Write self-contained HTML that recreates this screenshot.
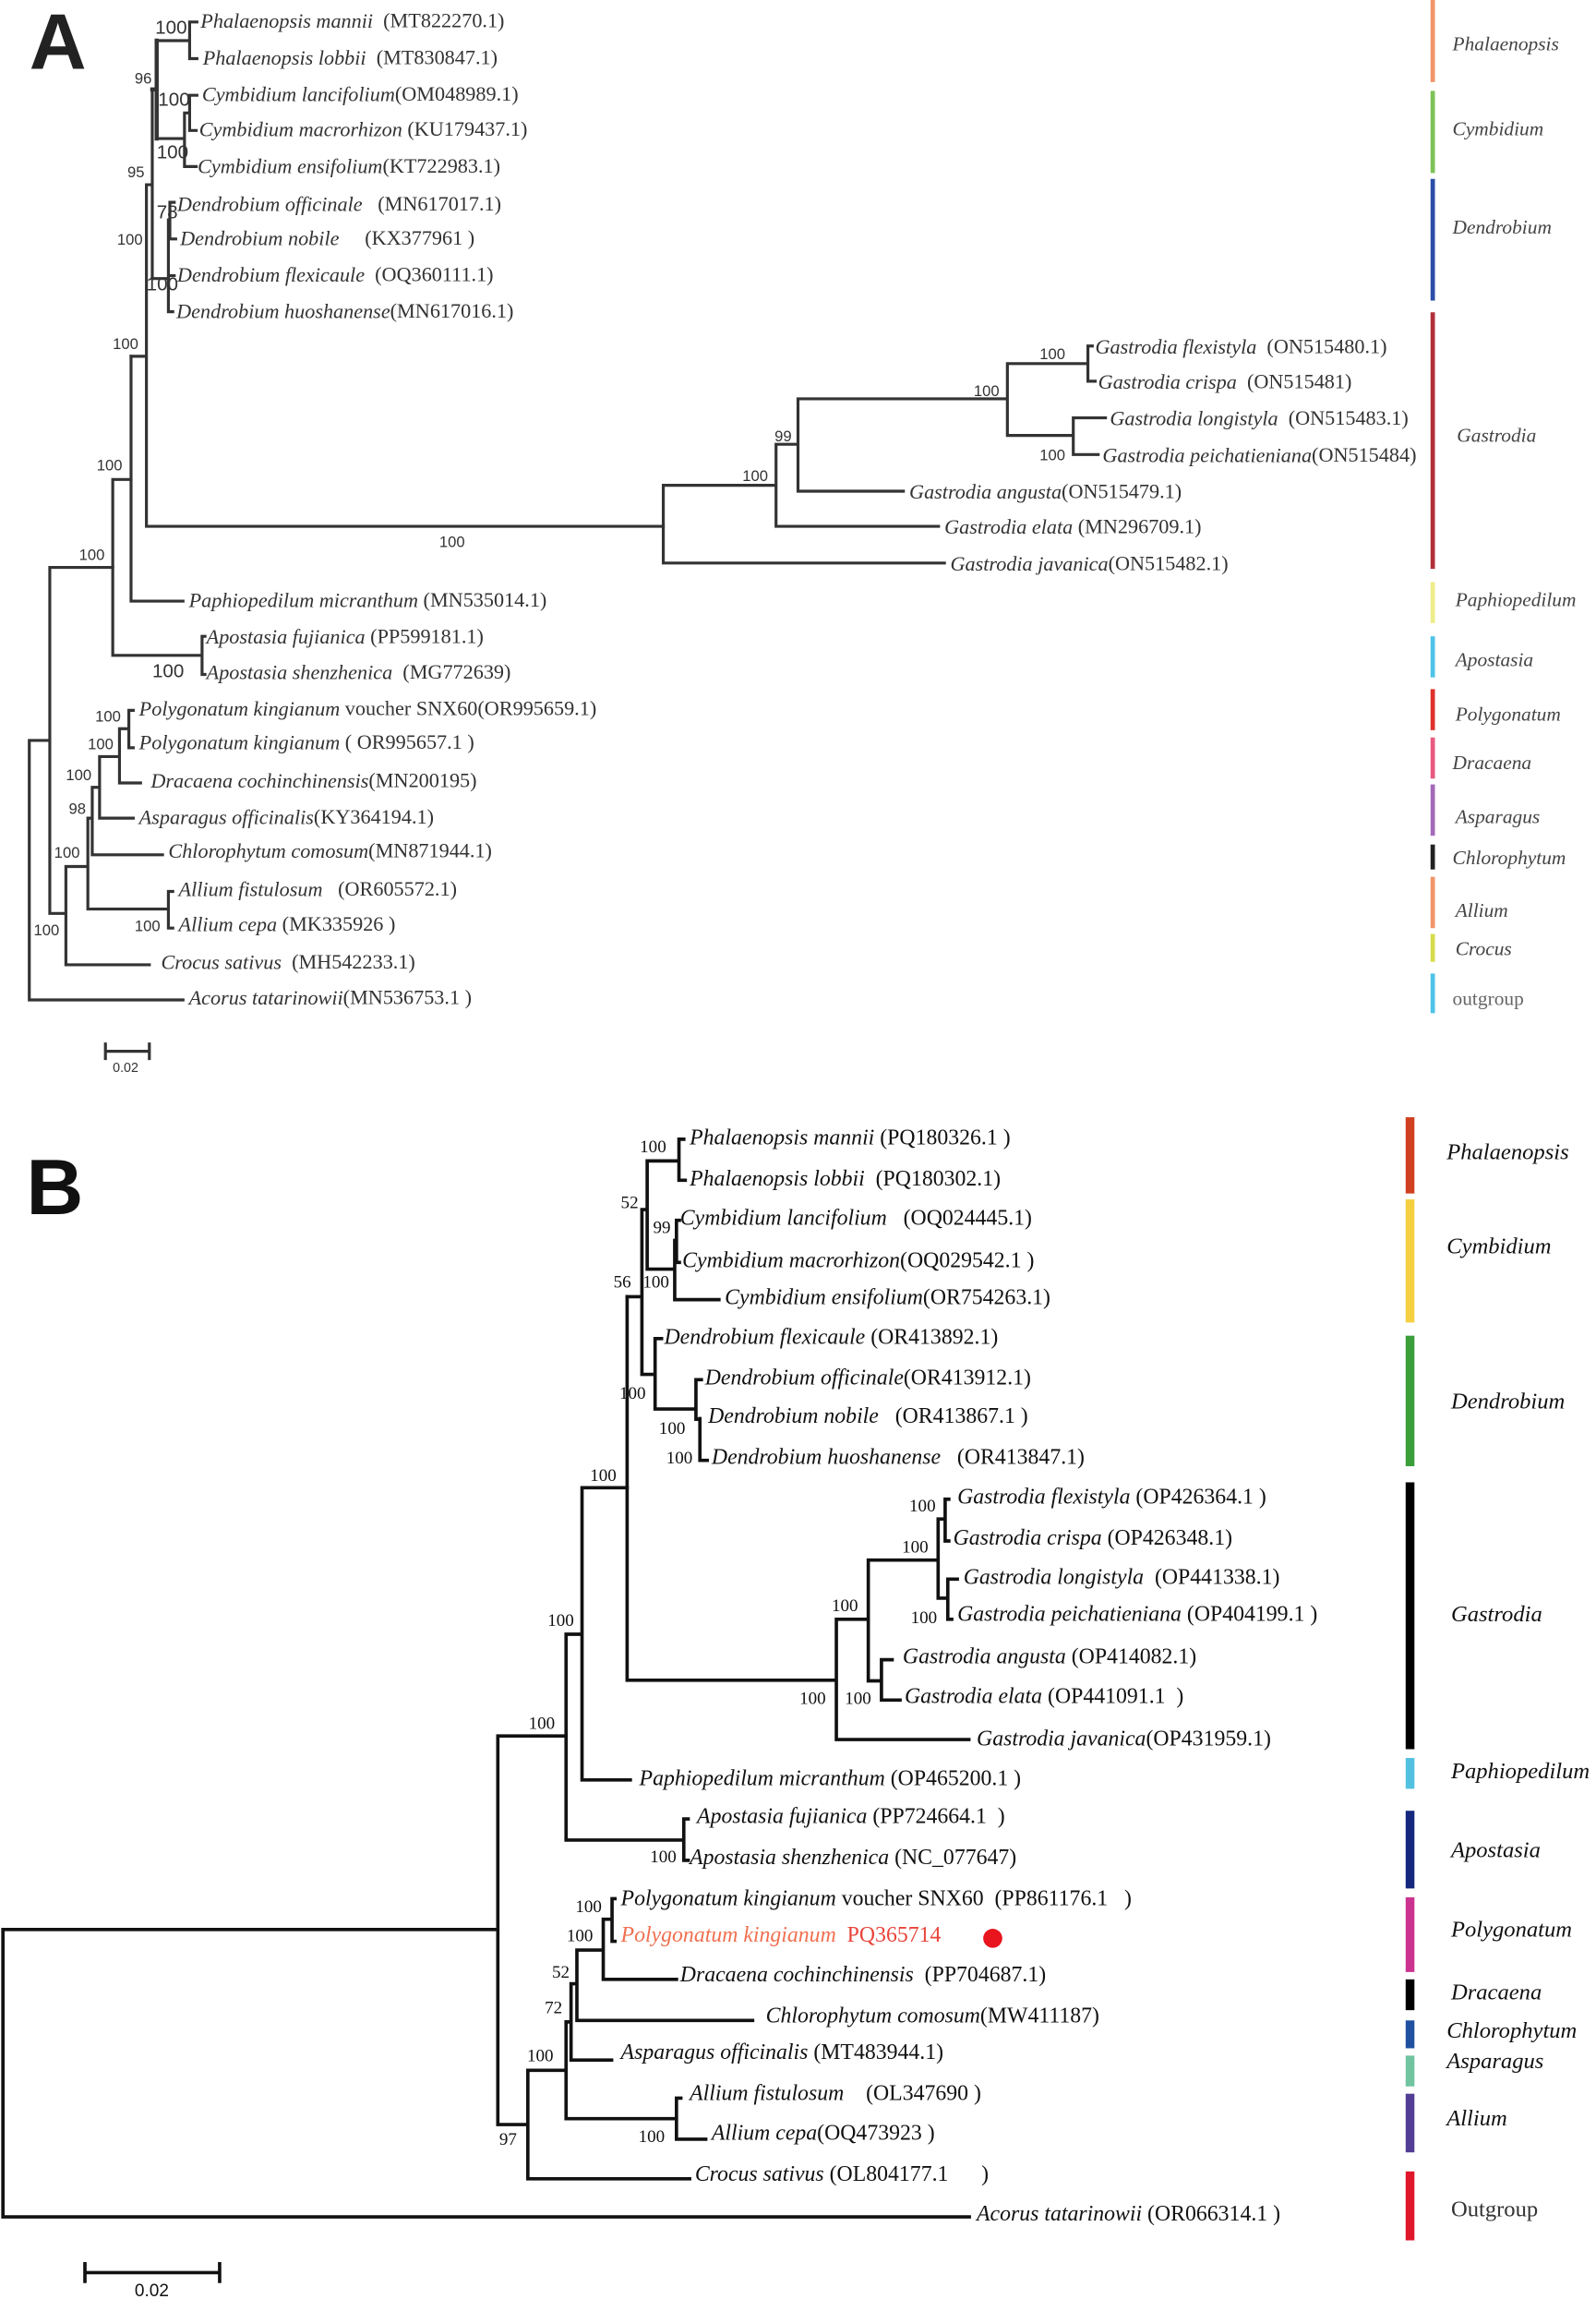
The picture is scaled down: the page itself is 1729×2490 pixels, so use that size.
<!DOCTYPE html>
<html><head><meta charset="utf-8"><style>html,body{margin:0;padding:0;background:#fff}svg{display:block}.pre text{white-space:pre}</style></head>
<body>
<svg xmlns="http://www.w3.org/2000/svg" width="1729" height="2490" viewBox="0 0 1090 1568" preserveAspectRatio="none">
<rect width="1090" height="1568" fill="#fff"/>
<!-- Panel A -->
<text x="20" y="47" font-family="Liberation Sans, sans-serif" font-weight="bold" font-size="54" fill="#222">A</text>
<g fill="none" stroke="#333" stroke-width="2" stroke-linecap="square">
<path d="M129.5 15V40M129.5 15H134.5M129.5 40H134.5M107 27.7H129.5"/>
<path d="M107 27.7V94.5M104 61H107" stroke-width="2.8"/>
<path d="M129.5 65V89M129.5 65H134.5M129.5 89H134M126 77H129.5M126 77V113.6M126 113.6H134M107 94.5H126"/>
<path d="M104 61V190M101 126H104"/>
<path d="M116 138V163M116 138H119M116 163H120M115 150V212.6M115 188H119M115 212.6H118M104 190H115"/>
<path d="M100 126V359M100 359H453M89.5 243H100"/>
<path d="M89.5 243V410M89.5 410H125"/>
<path d="M77 327V447M77 327H89.5M77 447H138M138 434V460M138 434H140M138 460H140"/>
<path d="M20 505V682M20 682H125M20 505H34M34 387V623M34 387H77M34 623H45M45 591V658M45 658H102M45 591H60M60 558V620M60 620H115M115 608V633M115 608H118M115 633H118M60 558H63M63 537V583M63 583H111M63 537H68M68 516V558M68 558H91M68 516H81.6M81.6 497V534M81.6 534H96M81.6 497H88M88 484.5V510M88 484.5H91M88 510H91"/>
<path d="M453 331V384M453 384H645M453 331H530M530 303V359M530 359H641M530 303H545M545 272V335M545 335H617M545 272H688M688 248V297M688 248H743M743 236V260M743 236H746M743 260H748M688 297H733M733 285V310M733 285H755M733 310H750"/>
<path d="M72 717H102M72 712V722M102 712V722"/>
</g>
<g font-family="Liberation Sans, sans-serif" font-size="10.5" fill="#333">
<text x="92" y="57">96</text><text x="87" y="121">95</text><text x="80" y="167">100</text>
<text x="77" y="238">100</text><text x="66" y="321">100</text><text x="54" y="382">100</text>
<text x="300" y="373">100</text><text x="65" y="492">100</text><text x="60" y="511">100</text>
<text x="45" y="532">100</text><text x="47" y="555">98</text><text x="37" y="585">100</text>
<text x="92" y="635">100</text><text x="23" y="638">100</text><text x="710" y="245">100</text>
<text x="665" y="270">100</text><text x="529" y="301">99</text><text x="507" y="328">100</text>
<text x="710" y="314">100</text><text x="77" y="731" font-size="9">0.02</text>
</g>
<g font-family="Liberation Sans, sans-serif" font-size="13" fill="#333">
<text x="106" y="23">100</text><text x="108" y="72">100</text><text x="107" y="108">100</text>
<text x="107" y="149">78</text><text x="100" y="198">100</text><text x="104" y="462">100</text>
</g>
<g class="pre" font-family="Liberation Serif, serif" font-size="14" fill="#333" dominant-baseline="central">
<text x="137" y="14"><tspan font-style="italic">Phalaenopsis mannii</tspan>  (MT822270.1)</text>
<text x="138.5" y="39"><tspan font-style="italic">Phalaenopsis lobbii</tspan>  (MT830847.1)</text>
<text x="138" y="64"><tspan font-style="italic">Cymbidium lancifolium</tspan>(OM048989.1)</text>
<text x="136" y="88"><tspan font-style="italic">Cymbidium macrorhizon</tspan> (KU179437.1)</text>
<text x="135" y="113"><tspan font-style="italic">Cymbidium ensifolium</tspan>(KT722983.1)</text>
<text x="121" y="139"><tspan font-style="italic">Dendrobium officinale</tspan>   (MN617017.1)</text>
<text x="123" y="162"><tspan font-style="italic">Dendrobium nobile</tspan>     (KX377961 )</text>
<text x="121" y="187"><tspan font-style="italic">Dendrobium flexicaule</tspan>  (OQ360111.1)</text>
<text x="120.5" y="212"><tspan font-style="italic">Dendrobium huoshanense</tspan>(MN617016.1)</text>
<text x="748" y="236"><tspan font-style="italic">Gastrodia flexistyla</tspan>  (ON515480.1)</text>
<text x="750" y="260"><tspan font-style="italic">Gastrodia crispa</tspan>  (ON515481)</text>
<text x="758" y="285"><tspan font-style="italic">Gastrodia longistyla</tspan>  (ON515483.1)</text>
<text x="753" y="310"><tspan font-style="italic">Gastrodia peichatieniana</tspan>(ON515484)</text>
<text x="621" y="335"><tspan font-style="italic">Gastrodia angusta</tspan>(ON515479.1)</text>
<text x="645" y="359"><tspan font-style="italic">Gastrodia elata</tspan> (MN296709.1)</text>
<text x="649" y="384"><tspan font-style="italic">Gastrodia javanica</tspan>(ON515482.1)</text>
<text x="129" y="409"><tspan font-style="italic">Paphiopedilum micranthum</tspan> (MN535014.1)</text>
<text x="141" y="434"><tspan font-style="italic">Apostasia fujianica</tspan> (PP599181.1)</text>
<text x="141" y="458"><tspan font-style="italic">Apostasia shenzhenica</tspan>  (MG772639)</text>
<text x="95" y="483"><tspan font-style="italic">Polygonatum kingianum</tspan> voucher SNX60(OR995659.1)</text>
<text x="95" y="506"><tspan font-style="italic">Polygonatum kingianum</tspan> ( OR995657.1 )</text>
<text x="103" y="532"><tspan font-style="italic">Dracaena cochinchinensis</tspan>(MN200195)</text>
<text x="95" y="557"><tspan font-style="italic">Asparagus officinalis</tspan>(KY364194.1)</text>
<text x="115" y="580"><tspan font-style="italic">Chlorophytum comosum</tspan>(MN871944.1)</text>
<text x="122" y="606"><tspan font-style="italic">Allium fistulosum</tspan>   (OR605572.1)</text>
<text x="122" y="630"><tspan font-style="italic">Allium cepa</tspan> (MK335926 )</text>
<text x="110" y="656"><tspan font-style="italic">Crocus sativus</tspan>  (MH542233.1)</text>
<text x="129" y="680"><tspan font-style="italic">Acorus tatarinowii</tspan>(MN536753.1 )</text>
</g>
<g>
<rect x="977" y="0" width="3" height="56" fill="#f0956a"/>
<rect x="977" y="62" width="3" height="56" fill="#7cc254"/>
<rect x="977" y="122" width="3" height="83" fill="#2b4fa8"/>
<rect x="977" y="213" width="3" height="175" fill="#b0303a"/>
<rect x="977" y="397" width="3" height="28" fill="#eeec8a"/>
<rect x="977" y="434" width="3" height="28" fill="#4ec3e8"/>
<rect x="977" y="470" width="3" height="28" fill="#e0302a"/>
<rect x="977" y="503" width="3" height="28" fill="#e85a80"/>
<rect x="977" y="535" width="3" height="35" fill="#a46ab8"/>
<rect x="977" y="576" width="3" height="17" fill="#222"/>
<rect x="977" y="598" width="3" height="35" fill="#f0956a"/>
<rect x="977" y="637" width="3" height="19" fill="#d6dc4a"/>
<rect x="977" y="664" width="3" height="27" fill="#4ec3e8"/>
</g>
<g font-family="Liberation Serif, serif" font-size="13.5" font-style="italic" fill="#444" dominant-baseline="central">
<text x="992" y="30">Phalaenopsis</text><text x="992" y="88">Cymbidium</text><text x="992" y="155">Dendrobium</text>
<text x="995" y="297">Gastrodia</text><text x="994" y="409">Paphiopedilum</text><text x="994" y="450">Apostasia</text>
<text x="994" y="487">Polygonatum</text><text x="992" y="520">Dracaena</text><text x="994" y="557">Asparagus</text>
<text x="992" y="585">Chlorophytum</text><text x="994" y="621">Allium</text><text x="994" y="647">Crocus</text>
<text x="992" y="681" font-style="normal" fill="#666">outgroup</text>
</g>

<!-- Panel B -->
<text x="18" y="828" font-family="Liberation Sans, sans-serif" font-weight="bold" font-size="54" fill="#111">B</text>
<g fill="none" stroke="#111" stroke-width="2.3" stroke-linecap="square">
<path d="M2 1316V1512M2 1512H662M2 1316H340M340 1184V1449M340 1184H386.6M340 1449H360.5M360.5 1412V1486M360.5 1486H471M360.5 1412H386.6M386.6 1379V1445M386.6 1445H462M462 1431V1459M462 1431H465M462 1459H482M386.6 1379H390M390 1353V1405M390 1405H417.7M390 1353H394M394 1330V1378M394 1378H514M394 1330H412M412 1309V1350M412 1350H462M412 1309H418M418 1295V1324M418 1295H420M418 1324H420"/>
<path d="M386.6 1114.6V1255M386.6 1255H467M467 1240.6V1268.8M467 1240.6H470M467 1268.8H470M386.6 1114.6H397.5M397.5 1014.7V1214M397.5 1214H430.5M397.5 1014.7H428.3"/>
<path d="M428.3 884.4V1146M428.3 1146H571.2M571.2 1104.4V1186.4M571.2 1186.4H661.7M571.2 1104.4H593M593 1064V1146.4M593 1146.4H602M602 1132V1159.5M602 1132H609.3M602 1159.5H614.7M593 1064H640.7M640.7 1036V1090M640.7 1036H645.5M645.5 1022.5V1051M645.5 1022.5H648M645.5 1051H648M640.7 1090H647.3M647.3 1077V1104.4M647.3 1077H653.8M647.3 1104.4H650"/>
<path d="M428.3 884.4H438.4M438.4 825V937.4M438.4 825H442M442 791.8V865.6M442 791.8H463.7M463.7 777V805M463.7 777H467M463.7 805H468M442 865.6H460.8M460.8 846V886.4M460.8 886.4H491M460.8 846H462M462 832.3V861M462 832.3H464M462 861H464M438.4 937.4H447.4M447.4 913V961M447.4 913H451.8M447.4 961H475.3M475.3 941V968M475.3 941H479M475.3 968H478M478 967.5V996M478 996H483"/>
<path d="M58 1550H150M58 1544V1556M150 1544V1556"/>
</g>
<g font-family="Liberation Serif, serif" font-size="12" fill="#111">
<text x="437" y="786">100</text><text x="424" y="824">52</text><text x="446" y="841">99</text>
<text x="439" y="878">100</text><text x="419" y="878">56</text><text x="423" y="954">100</text>
<text x="450" y="978">100</text><text x="455" y="998">100</text><text x="403" y="1010">100</text>
<text x="374" y="1109">100</text><text x="361" y="1179">100</text><text x="621" y="1031">100</text>
<text x="616" y="1059">100</text><text x="622" y="1107">100</text><text x="568" y="1099">100</text>
<text x="546" y="1162">100</text><text x="577" y="1162">100</text><text x="444" y="1270">100</text>
<text x="393" y="1304">100</text><text x="387" y="1324">100</text><text x="377" y="1349">52</text>
<text x="372" y="1373">72</text><text x="360" y="1406">100</text><text x="436" y="1461">100</text>
<text x="341" y="1463">97</text>
</g>
<text x="92" y="1566" font-family="Liberation Sans, sans-serif" font-size="12" fill="#111">0.02</text>
<g class="pre" font-family="Liberation Serif, serif" font-size="15" fill="#111" dominant-baseline="central">
<text x="471" y="776"><tspan font-style="italic">Phalaenopsis mannii</tspan> (PQ180326.1 )</text>
<text x="471" y="804"><tspan font-style="italic">Phalaenopsis lobbii</tspan>  (PQ180302.1)</text>
<text x="464.5" y="831"><tspan font-style="italic">Cymbidium lancifolium</tspan>   (OQ024445.1)</text>
<text x="466" y="860"><tspan font-style="italic">Cymbidium macrorhizon</tspan>(OQ029542.1 )</text>
<text x="495" y="885"><tspan font-style="italic">Cymbidium ensifolium</tspan>(OR754263.1)</text>
<text x="453.6" y="912"><tspan font-style="italic">Dendrobium flexicaule</tspan> (OR413892.1)</text>
<text x="481.5" y="940"><tspan font-style="italic">Dendrobium officinale</tspan>(OR413912.1)</text>
<text x="483.6" y="966"><tspan font-style="italic">Dendrobium nobile</tspan>   (OR413867.1 )</text>
<text x="486" y="994"><tspan font-style="italic">Dendrobium huoshanense</tspan>   (OR413847.1)</text>
<text x="653.8" y="1021"><tspan font-style="italic">Gastrodia flexistyla</tspan> (OP426364.1 )</text>
<text x="651" y="1049"><tspan font-style="italic">Gastrodia crispa</tspan> (OP426348.1)</text>
<text x="658" y="1076"><tspan font-style="italic">Gastrodia longistyla</tspan>  (OP441338.1)</text>
<text x="653.8" y="1101"><tspan font-style="italic">Gastrodia peichatieniana</tspan> (OP404199.1 )</text>
<text x="616.5" y="1130"><tspan font-style="italic">Gastrodia angusta</tspan> (OP414082.1)</text>
<text x="617.8" y="1157"><tspan font-style="italic">Gastrodia elata</tspan> (OP441091.1  )</text>
<text x="667" y="1186"><tspan font-style="italic">Gastrodia javanica</tspan>(OP431959.1)</text>
<text x="436.6" y="1213"><tspan font-style="italic">Paphiopedilum micranthum</tspan> (OP465200.1 )</text>
<text x="476" y="1239"><tspan font-style="italic">Apostasia fujianica</tspan> (PP724664.1  )</text>
<text x="471" y="1267"><tspan font-style="italic">Apostasia shenzhenica</tspan> (NC_077647)</text>
<text x="424" y="1295"><tspan font-style="italic">Polygonatum kingianum</tspan> voucher SNX60  (PP861176.1   )</text>
<text x="424" y="1320" fill="#f07050"><tspan font-style="italic">Polygonatum kingianum</tspan>  <tspan fill="#e8443a">PQ365714</tspan></text>
<text x="464.5" y="1347"><tspan font-style="italic">Dracaena cochinchinensis</tspan>  (PP704687.1)</text>
<text x="523" y="1375"><tspan font-style="italic">Chlorophytum comosum</tspan>(MW411187)</text>
<text x="424" y="1400"><tspan font-style="italic">Asparagus officinalis</tspan> (MT483944.1)</text>
<text x="471" y="1428"><tspan font-style="italic">Allium fistulosum</tspan>    (OL347690 )</text>
<text x="486" y="1455"><tspan font-style="italic">Allium cepa</tspan>(OQ473923 )</text>
<text x="474.6" y="1483"><tspan font-style="italic">Crocus sativus</tspan> (OL804177.1      )</text>
<text x="667" y="1510"><tspan font-style="italic">Acorus tatarinowii</tspan> (OR066314.1 )</text>
</g>
<circle cx="678" cy="1322" r="6.5" fill="#e8141e"/>
<g>
<rect x="960" y="762" width="6" height="52" fill="#d04020"/>
<rect x="960" y="818" width="6" height="84" fill="#f5cf40"/>
<rect x="960" y="911" width="6" height="89" fill="#3a9e3a"/>
<rect x="960" y="1011" width="6" height="182" fill="#000"/>
<rect x="960" y="1199" width="6" height="21" fill="#52c0e0"/>
<rect x="960" y="1235" width="6" height="53" fill="#15287e"/>
<rect x="960" y="1294" width="6" height="51" fill="#cc3390"/>
<rect x="960" y="1350" width="6" height="21" fill="#000"/>
<rect x="960" y="1378" width="6" height="19" fill="#2050a0"/>
<rect x="960" y="1402" width="6" height="21" fill="#70c4a0"/>
<rect x="960" y="1428" width="6" height="40" fill="#523e94"/>
<rect x="960" y="1481" width="6" height="47" fill="#e0162a"/>
</g>
<g font-family="Liberation Serif, serif" font-size="15.5" font-style="italic" fill="#111" dominant-baseline="central">
<text x="988" y="786">Phalaenopsis</text><text x="988" y="850">Cymbidium</text><text x="991" y="956">Dendrobium</text>
<text x="991" y="1101">Gastrodia</text><text x="991" y="1208">Paphiopedilum</text><text x="991" y="1262">Apostasia</text>
<text x="991" y="1316">Polygonatum</text><text x="991" y="1359">Dracaena</text><text x="988" y="1385">Chlorophytum</text>
<text x="988" y="1406">Asparagus</text><text x="988" y="1445">Allium</text>
<text x="991" y="1507" font-style="normal" fill="#333">Outgroup</text>
</g>
</svg>
</body></html>
